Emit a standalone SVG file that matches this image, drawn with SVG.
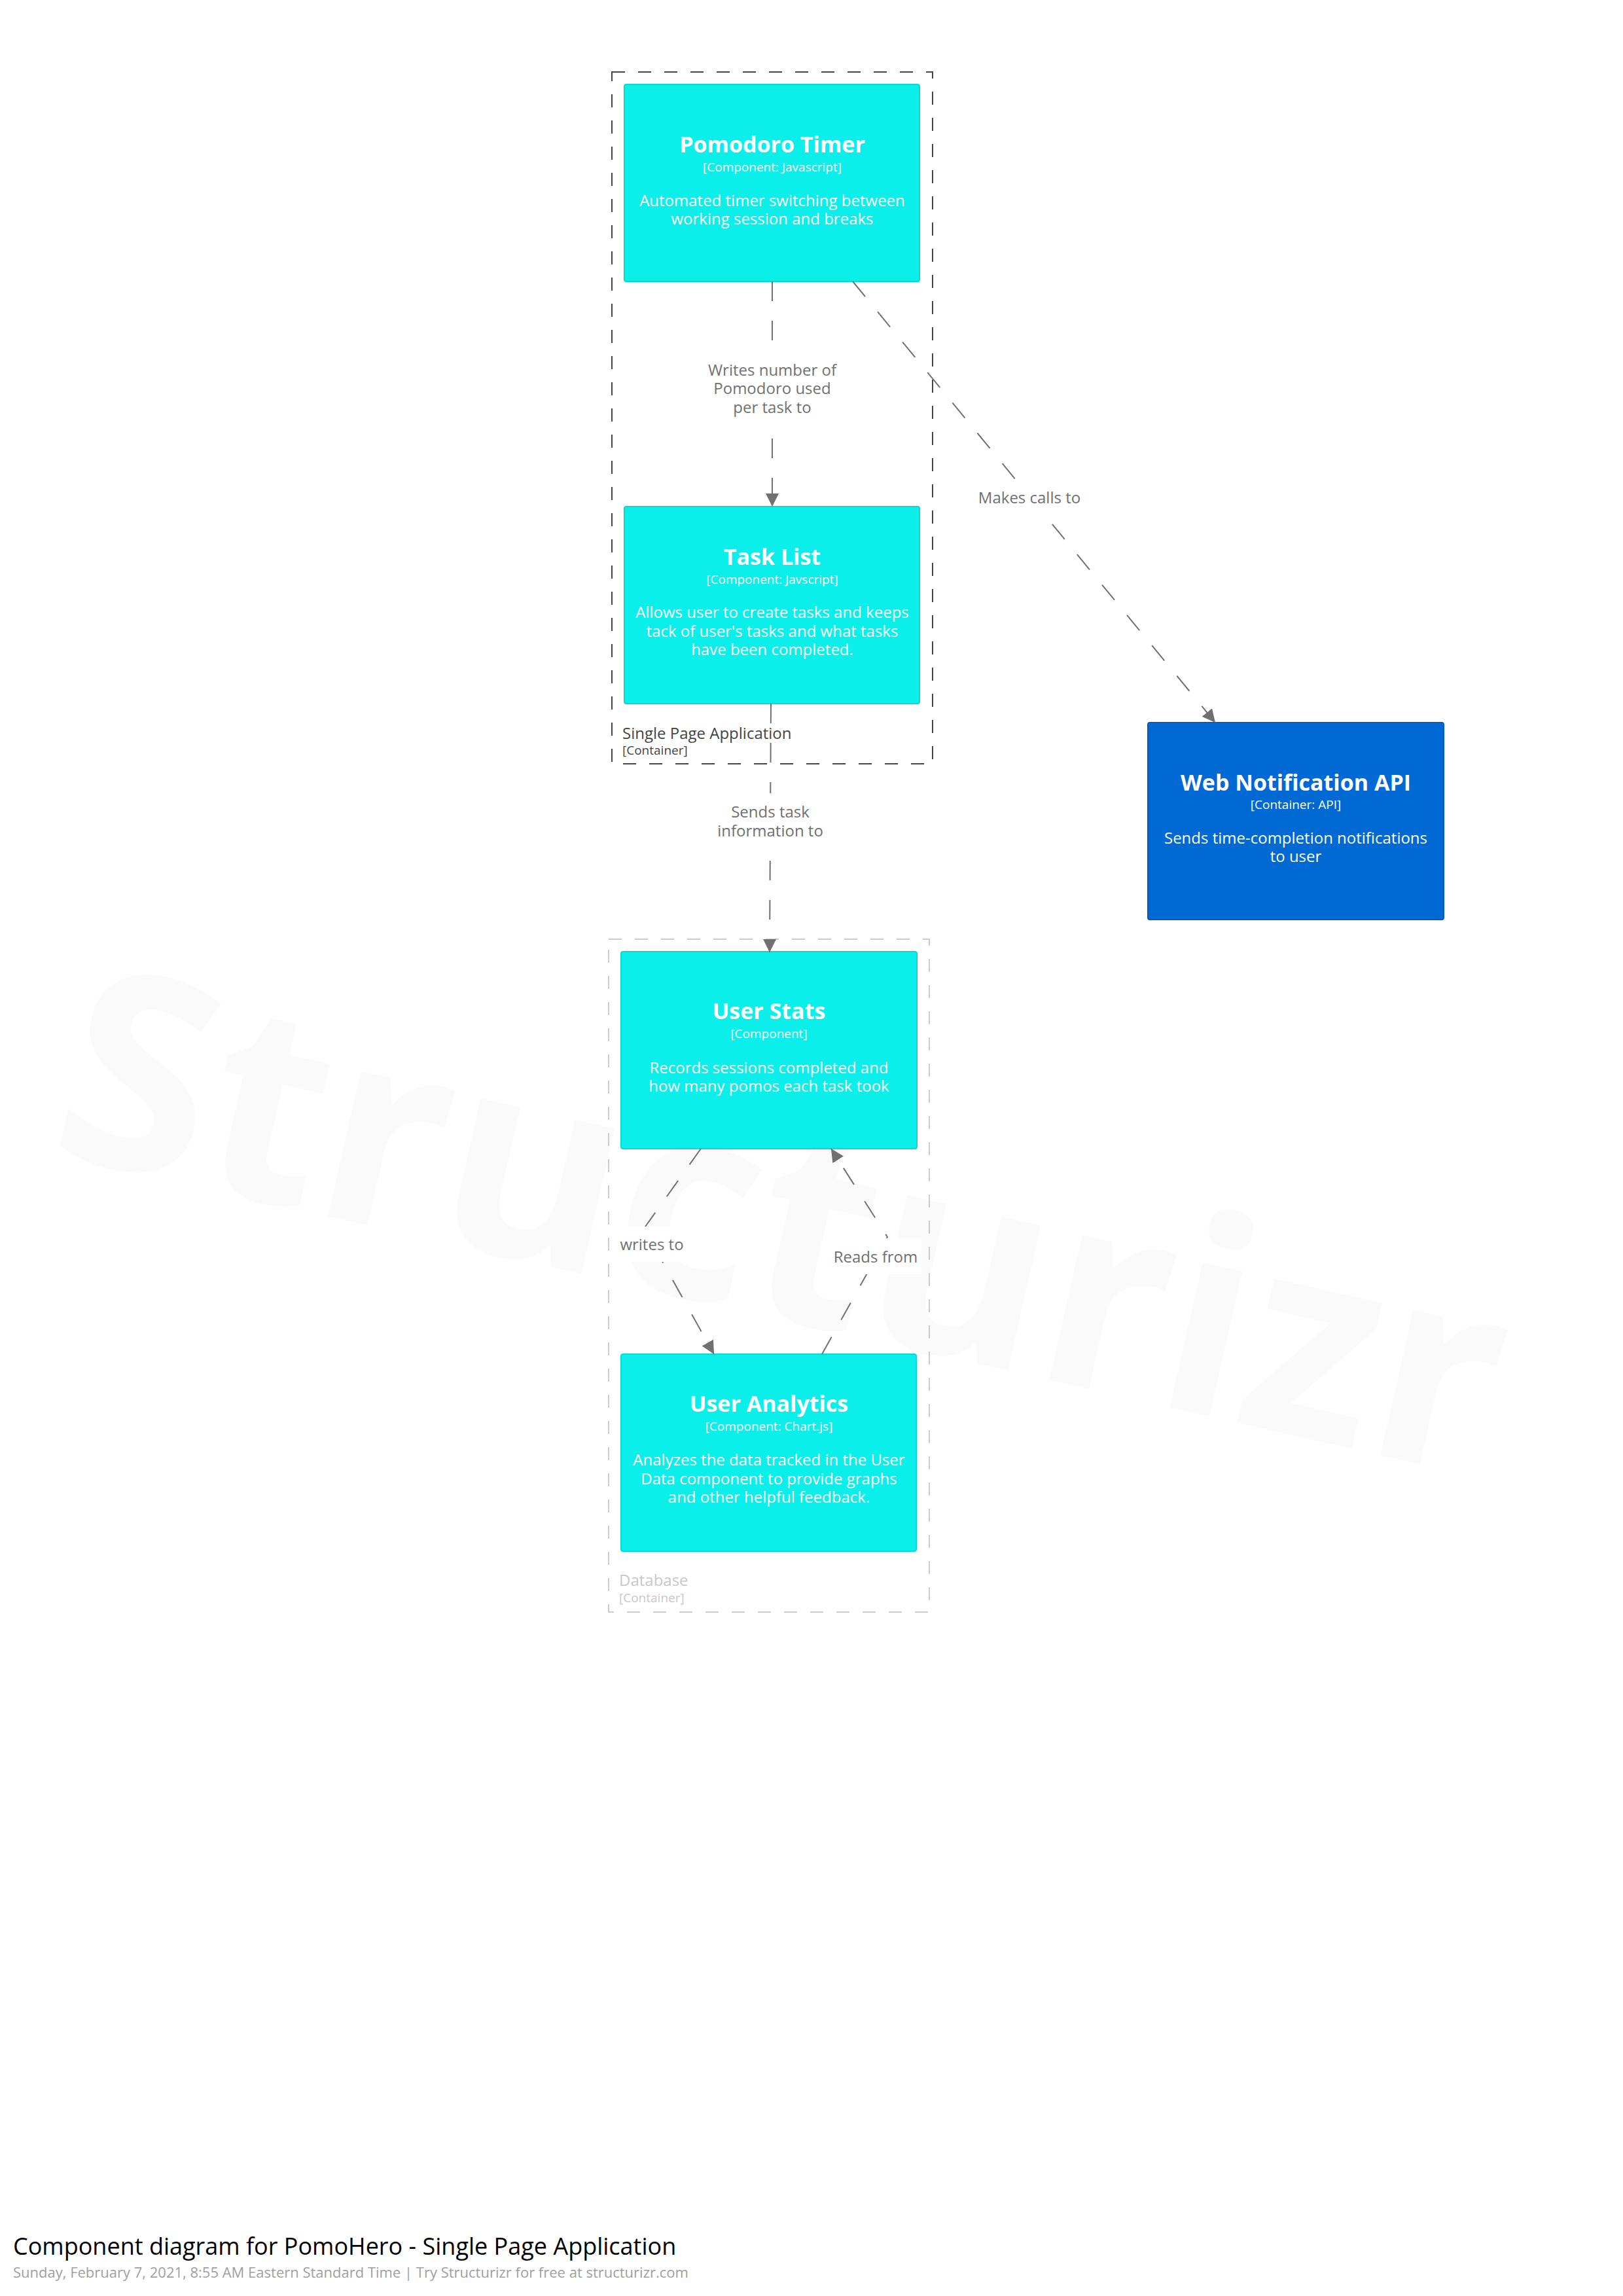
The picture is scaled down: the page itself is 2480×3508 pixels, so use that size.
<svg xmlns="http://www.w3.org/2000/svg" width="2480" height="3508" viewBox="0 0 2480 3508">
  <style>
    text { font-family: "Open Sans", "Liberation Sans", sans-serif; }
    .comp { fill: #0aefea; stroke: #0bd8d3; stroke-width: 2; }
    .ext { fill: #0069d4; stroke: #005dbb; stroke-width: 2; }
    .name { font-size: 34px; font-weight: 700; fill: #ffffff; text-anchor: middle; }
    .meta { font-size: 19px; fill: #ffffff; text-anchor: middle; }
    .desc { font-size: 24px; fill: #ffffff; text-anchor: middle; }
    .bnd-dark { fill: none; stroke: #444444; stroke-width: 2; stroke-dasharray: 20 20; }
    .bnd-light { fill: none; stroke: #cccccc; stroke-width: 2; stroke-dasharray: 20 20; }
    .bnd-name { font-size: 24px; }
    .bnd-meta { font-size: 19px; }
    .rel { fill: none; stroke: #707070; stroke-width: 2; stroke-dasharray: 30 30; marker-end: url(#arrow); }
    .rel-bg { fill: #ffffff; }
    .rel-label { font-size: 24px; fill: #707070; text-anchor: middle; }
    .watermark { font-size: 416px; font-weight: 700; fill: #fafafa; }
  </style>
  <defs>
    <marker id="arrow" viewBox="0 0 20 20" refX="20" refY="10" markerWidth="20" markerHeight="20" markerUnits="userSpaceOnUse" orient="auto">
      <path d="M0,0 L20,10 L0,20 Z" fill="#707070" stroke="none"/>
    </marker>
  </defs>

  <rect x="0" y="0" width="2480" height="3508" fill="#ffffff"/>

  <!-- background brand mark -->
  <text class="watermark" transform="translate(70,1760) rotate(12.8)">Structurizr</text>

  <!-- container boundaries -->
  <g id="boundary-spa">
    <rect class="bnd-dark" x="935" y="110" width="490" height="1057"/>
    <text class="bnd-name" x="951" y="1129" fill="#444444">Single Page Application</text>
    <text class="bnd-meta" x="951" y="1153" fill="#444444">[Container]</text>
  </g>
  <g id="boundary-database">
    <rect class="bnd-light" x="930" y="1435" width="490" height="1028"/>
    <text class="bnd-name" x="946" y="2423" fill="#c8c8c8">Database</text>
    <text class="bnd-meta" x="946" y="2448" fill="#c8c8c8">[Container]</text>
  </g>

  <!-- components and containers -->
  <g id="pomodoro-timer">
    <rect class="comp" x="954" y="129" width="451" height="301" rx="3"/>
    <text class="name" x="1180" y="233">Pomodoro Timer</text>
    <text class="meta" x="1180" y="262">[Component: Javascript]</text>
    <text class="desc" x="1180" y="315">Automated timer switching between</text>
    <text class="desc" x="1180" y="343">working session and breaks</text>
  </g>

  <g id="task-list">
    <rect class="comp" x="954" y="774" width="451" height="301" rx="3"/>
    <text class="name" x="1180" y="863">Task List</text>
    <text class="meta" x="1180" y="892">[Component: Javscript]</text>
    <text class="desc" x="1180" y="944">Allows user to create tasks and keeps</text>
    <text class="desc" x="1180" y="972.5">tack of user's tasks and what tasks</text>
    <text class="desc" x="1180" y="1001">have been completed.</text>
  </g>

  <g id="web-notification-api">
    <rect class="ext" x="1754" y="1104" width="452" height="301" rx="3"/>
    <text class="name" x="1980" y="1208">Web Notification API</text>
    <text class="meta" x="1980" y="1236">[Container: API]</text>
    <text class="desc" x="1980" y="1289">Sends time-completion notifications</text>
    <text class="desc" x="1980" y="1317">to user</text>
  </g>

  <g id="user-stats">
    <rect class="comp" x="949" y="1454" width="452" height="301" rx="3"/>
    <text class="name" x="1175" y="1557">User Stats</text>
    <text class="meta" x="1175" y="1586">[Component]</text>
    <text class="desc" x="1175" y="1640">Records sessions completed and</text>
    <text class="desc" x="1175" y="1668">how many pomos each task took</text>
  </g>

  <g id="user-analytics">
    <rect class="comp" x="949" y="2069" width="451" height="301" rx="3"/>
    <text class="name" x="1175" y="2157">User Analytics</text>
    <text class="meta" x="1175" y="2186">[Component: Chart.js]</text>
    <text class="desc" x="1175" y="2239">Analyzes the data tracked in the User</text>
    <text class="desc" x="1175" y="2267.5">Data component to provide graphs</text>
    <text class="desc" x="1175" y="2296">and other helpful feedback.</text>
  </g>

  <!-- relationships -->
  <g id="connectors">
    <g id="rel-timer-tasklist">
      <path class="rel" d="M1180,430 L1180,774"/>
      <rect class="rel-bg" x="1080" y="537" width="200" height="112"/>
      <text class="rel-label" x="1180" y="573.5">Writes number of</text>
      <text class="rel-label" x="1180" y="602">Pomodoro used</text>
      <text class="rel-label" x="1180" y="631">per task to</text>
    </g>
    <g id="rel-timer-notification">
      <path class="rel" d="M1303,430 L1857,1104"/>
      <rect class="rel-bg" x="1485" y="732" width="176" height="55"/>
      <text class="rel-label" x="1573" y="769">Makes calls to</text>
    </g>
    <g id="rel-tasklist-stats">
      <path class="rel" d="M1178,1075 L1176,1455"/>
      <rect class="rel-bg" x="1082" y="1212" width="190" height="84"/>
      <text class="rel-label" x="1177" y="1249">Sends task</text>
      <text class="rel-label" x="1177" y="1278">information to</text>
    </g>
    <g id="rel-stats-analytics">
      <path class="rel" d="M1071,1755 L984,1877 L1091,2069"/>
      <rect class="rel-bg" x="942" y="1874" width="108" height="54"/>
      <text class="rel-label" x="996" y="1910">writes to</text>
    </g>
    <g id="rel-analytics-stats">
      <path class="rel" d="M1256,2069 L1356,1890 L1270,1755"/>
      <rect class="rel-bg" x="1268" y="1892" width="140" height="55"/>
      <text class="rel-label" x="1338" y="1929">Reads from</text>
    </g>
  </g>

  <!-- diagram title -->
  <g id="title">
    <text x="20" y="3445" font-size="36" fill="#000000">Component diagram for PomoHero - Single Page Application</text>
    <text x="20" y="3480" font-size="22" fill="#a0a0a0">Sunday, February 7, 2021, 8:55 AM Eastern Standard Time | Try Structurizr for free at structurizr.com</text>
  </g>
</svg>
